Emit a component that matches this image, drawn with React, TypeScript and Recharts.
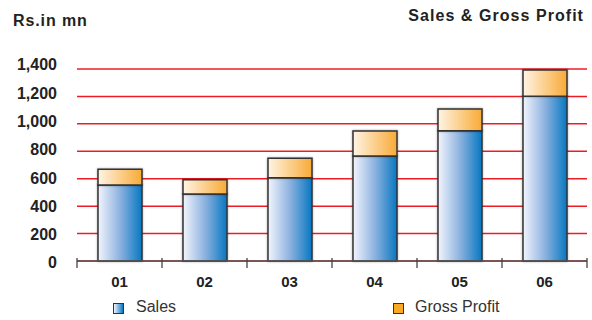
import React from "react";
import { BarChart, Bar, XAxis, YAxis, CartesianGrid } from "recharts";

const categories = ["01", "02", "03", "04", "05", "06"];
const sales = [554, 489, 607, 766, 950, 1201];
const grossProfit = [115, 104, 142, 182, 158, 191];
const yTicks = [0, 200, 400, 600, 800, 1000, 1200, 1400];

const data = categories.map((c, i) => ({ name: c, sales: sales[i], gp: grossProfit[i] }));

const FONT = "'Liberation Sans', Arial, Helvetica, sans-serif";

const CatTick = (props: any) => {
  const { x, y, payload, index } = props;
  const off = payload && payload.offset ? payload.offset : 42.5;
  const axisY = y - 15;
  return (
    <g>
      <line x1={x - off} x2={x - off} y1={axisY - 3} y2={axisY + 7} stroke="#444" strokeWidth={1.3} />
      {index === categories.length - 1 && (
        <line x1={x + off} x2={x + off} y1={axisY - 3} y2={axisY + 7} stroke="#444" strokeWidth={1.3} />
      )}
      <text x={x} y={y} dy="0.71em" textAnchor="middle" fill="#222" fontSize={15} fontWeight="bold" fontFamily={FONT}>
        {payload.value}
      </text>
    </g>
  );
};

const ValTick = (props: any) => {
  const { x, y, payload } = props;
  const v = payload.value as number;
  const shift = 1.8 - 6.2 * (v / 1400);
  return (
    <text x={x} y={y + shift} dy="0.355em" textAnchor="end" fill="#222" fontSize={16} fontWeight="bold" fontFamily={FONT}>
      {v.toLocaleString("en-US")}
    </text>
  );
};

export default function App() {
  return (
    <div style={{ position: "absolute", left: 0, top: 0, width: 592, height: 320, background: "#fff", fontFamily: FONT }}>
      <div style={{ position: "absolute", left: 13, top: 13, fontSize: 16, lineHeight: "16px", fontWeight: "bold", color: "#222", letterSpacing: 0.9, whiteSpace: "nowrap" }}>
        Rs.in mn
      </div>
      <div style={{ position: "absolute", right: 8, top: 8, fontSize: 16, lineHeight: "16px", fontWeight: "bold", color: "#222", letterSpacing: 1.05, whiteSpace: "nowrap" }}>
        Sales &amp; Gross Profit
      </div>
      <BarChart width={592} height={320} data={data} margin={{ top: 69, right: 5, left: 0, bottom: 29 }} barSize={44}>
        <defs>
          <linearGradient id="gSales" x1="0" y1="0" x2="1" y2="0">
            <stop offset="0%" stopColor="#f2f5fd" />
            <stop offset="50%" stopColor="#8db2df" />
            <stop offset="100%" stopColor="#0677c2" />
          </linearGradient>
          <linearGradient id="gGp" x1="0" y1="0" x2="1" y2="0">
            <stop offset="0%" stopColor="#fff4e4" />
            <stop offset="100%" stopColor="#f8aa36" />
          </linearGradient>
        </defs>
        <CartesianGrid vertical={false} stroke="#ee1c25" strokeWidth={1.5} />
        <XAxis
          dataKey="name"
          axisLine={{ stroke: "#555", strokeWidth: 1.5 }}
          tickLine={false}
          tickSize={0}
          tickMargin={15}
          height={30}
          tick={<CatTick />}
          interval={0}
        />
        <YAxis
          domain={[0, 1400]}
          ticks={yTicks}
          width={77}
          axisLine={false}
          tickLine={false}
          tickSize={0}
          tickMargin={20}
          tick={<ValTick />}
          interval={0}
        />
        <Bar dataKey="sales" stackId="a" fill="url(#gSales)" stroke="#333" strokeWidth={1.5} isAnimationActive={false} style={{ filter: "drop-shadow(0 0 1px rgba(0,0,0,0.35))" }} />
        <Bar dataKey="gp" stackId="a" fill="url(#gGp)" stroke="#333" strokeWidth={1.5} isAnimationActive={false} style={{ filter: "drop-shadow(0 0 1px rgba(0,0,0,0.35))" }} />
      </BarChart>
      <span style={{ position: "absolute", left: 113, top: 303, width: 11, height: 11, boxSizing: "border-box", border: "1.5px solid #333", background: "linear-gradient(to right, #f2f5fd, #0677c2)" }} />
      <div style={{ position: "absolute", left: 136, top: 299, fontSize: 16, lineHeight: "16px", color: "#333", whiteSpace: "nowrap" }}>Sales</div>
      <span style={{ position: "absolute", left: 393, top: 303, width: 11, height: 11, boxSizing: "border-box", border: "1.5px solid #333", background: "#f8a823" }} />
      <div style={{ position: "absolute", left: 415, top: 299, fontSize: 16, lineHeight: "16px", color: "#333", whiteSpace: "nowrap" }}>Gross Profit</div>
    </div>
  );
}
